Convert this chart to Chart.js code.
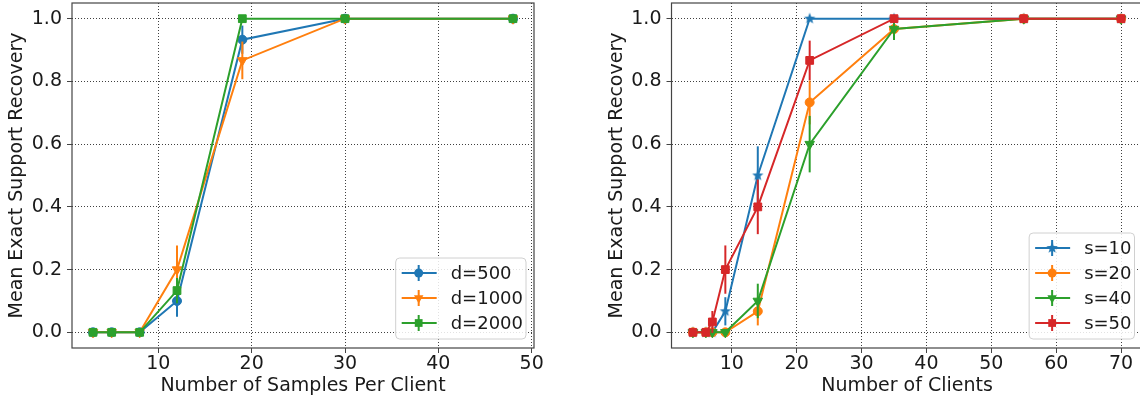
<!DOCTYPE html>
<html>
<head>
<meta charset="utf-8">
<script src="https://cdn.jsdelivr.net/npm/chart.js@4.4.1/dist/chart.umd.min.js"></script>
<style>
  html, body { margin: 0; padding: 0; background: #fff; overflow: hidden; width: 1140px; height: 397px; }
  #left { position: absolute; left: 0; top: 0; }
  #right { position: absolute; left: 580px; top: 0; }
</style>
</head>
<body>
<canvas id="left" width="545" height="397"></canvas>
<canvas id="right" width="565" height="397"></canvas>
<script>
// left panel: recovery vs samples per client
const samplesPerClient = [3, 5, 8, 12, 19, 30, 48];
const d500 = [0, 0, 0, 0.1, 0.933, 1, 1];
const d500Err = [0, 0, 0, 0.05, 0.045, 0, 0];
const d1000 = [0, 0, 0, 0.2, 0.867, 1, 1];
const d1000Err = [0, 0, 0, 0.077, 0.06, 0, 0];
const d2000 = [0, 0, 0, 0.133, 1, 1, 1];
const d2000Err = [0, 0, 0, 0.04, 0, 0, 0];
const leftLabels = ['d=500', 'd=1000', 'd=2000'];
const leftXTicks = [10, 20, 30, 40, 50];

// right panel: recovery vs number of clients
const numClients = [4, 6, 7, 9, 14, 22, 35, 55, 70];
const s10 = [0, 0, 0, 0.067, 0.5, 1, 1, 1, 1];
const s10Err = [0, 0, 0, 0.045, 0.093, 0, 0, 0, 0];
const s20 = [0, 0, 0, 0, 0.067, 0.733, 0.967, 1, 1];
const s20Err = [0, 0, 0, 0, 0.045, 0.07, 0.03, 0, 0];
const s40 = [0, 0, 0, 0, 0.1, 0.6, 0.967, 1, 1];
const s40Err = [0, 0, 0, 0, 0.055, 0.09, 0.035, 0, 0];
const s50 = [0, 0, 0.033, 0.2, 0.4, 0.867, 1, 1, 1];
const s50Err = [0, 0, 0.035, 0.077, 0.087, 0.063, 0, 0, 0];
const rightLabels = ['s=10', 's=20', 's=40', 's=50'];
const rightXTicks = [10, 20, 30, 40, 50, 60, 70];

const yTicks = [0, 0.2, 0.4, 0.6, 0.8, 1.0];

const BLUE = '#1f77b4', ORANGE = '#ff7f0e', GREEN = '#2ca02c', RED = '#d62728';
const FONT = { family: '"DejaVu Sans", sans-serif', size: 19 };
const LEGEND_FONT = '18px "DejaVu Sans", sans-serif';
const TEXT = '#1a1a1a';

// filled 5-point star, like matplotlib '*'
function starImage(color) {
  const c = document.createElement('canvas');
  c.width = 14; c.height = 14;
  const g = c.getContext('2d');
  g.fillStyle = color;
  g.beginPath();
  for (let i = 0; i < 10; i++) {
    const r = i % 2 === 0 ? 6 : 2.6;
    const a = -Math.PI / 2 + i * Math.PI / 5;
    g.lineTo(7 + r * Math.cos(a), 7 + r * Math.sin(a));
  }
  g.closePath();
  g.fill();
  return c;
}

function drawMarker(ctx, ds, x, y) {
  const style = ds.pointStyle, r = ds.pointRadius;
  ctx.fillStyle = ds.borderColor;
  ctx.beginPath();
  if (style instanceof HTMLCanvasElement) {
    ctx.drawImage(style, x - style.width / 2, y - style.height / 2);
    return;
  }
  if (style === 'circle') {
    ctx.arc(x, y, r, 0, Math.PI * 2);
  } else if (style === 'rect') {
    const s = r * Math.SQRT1_2;
    ctx.rect(x - s, y - s, 2 * s, 2 * s);
  } else if (style === 'triangle') {
    for (let k = 0; k < 3; k++) {
      const a = Math.PI / 2 + k * 2 * Math.PI / 3;
      ctx.lineTo(x + r * Math.cos(a), y + r * Math.sin(a));
    }
    ctx.closePath();
  }
  ctx.fill();
}

function makeSet(label, xs, ys, errs, color, style, radius, rotation, order) {
  return {
    label: label,
    data: xs.map((x, i) => ({ x: x, y: ys[i] })),
    errors: errs,
    borderColor: color,
    backgroundColor: color,
    pointBackgroundColor: color,
    pointBorderColor: color,
    pointStyle: style,
    pointRadius: radius,
    pointRotation: rotation || 0,
    pointBorderWidth: 1,
    borderWidth: 2,
    tension: 0,
    fill: false,
    order: order
  };
}

// vertical error bars drawn from the scales
const errorBars = {
  id: 'errorBars',
  beforeDatasetDraw(chart, args) {
    const ds = chart.data.datasets[args.index];
    if (!ds.errors) return;
    const ctx = chart.ctx, xs = chart.scales.x, ys = chart.scales.y;
    ctx.save();
    ctx.strokeStyle = ds.borderColor;
    ctx.lineWidth = 2;
    ds.data.forEach((p, i) => {
      const e = ds.errors[i];
      if (!e) return;
      const px = xs.getPixelForValue(p.x);
      ctx.beginPath();
      ctx.moveTo(px, ys.getPixelForValue(p.y - e));
      ctx.lineTo(px, ys.getPixelForValue(p.y + e));
      ctx.stroke();
    });
    ctx.restore();
  }
};

// axes frame on all four sides
const frame = {
  id: 'frame',
  beforeDatasetsDraw(chart) {
    const a = chart.chartArea, ctx = chart.ctx;
    ctx.save();
    ctx.strokeStyle = '#444';
    ctx.lineWidth = 1.2;
    ctx.strokeRect(a.left, a.top, a.right - a.left, a.bottom - a.top);
    ctx.restore();
  }
};

// matplotlib-style legend box, lower right
const boxLegend = {
  id: 'boxLegend',
  afterDraw(chart) {
    const ctx = chart.ctx, a = chart.chartArea;
    const sets = chart.data.datasets;
    const rowH = 25;
    ctx.save();
    ctx.font = LEGEND_FONT;
    const tw = Math.max(...sets.map(d => ctx.measureText(d.label).width));
    const w = 55 + tw + 3;
    const h = sets.length * rowH + 6;
    const right = a.right - 8, bottom = a.bottom - 9;
    const left = right - w, top = bottom - h;
    ctx.beginPath();
    ctx.roundRect(left, top, w, h, 4);
    ctx.fillStyle = 'rgba(255,255,255,0.85)';
    ctx.fill();
    ctx.strokeStyle = '#d0d0d0';
    ctx.lineWidth = 1;
    ctx.stroke();
    sets.forEach((ds, i) => {
      const cy = top + 15 + i * rowH;
      const mx = left + 23;
      ctx.strokeStyle = ds.borderColor;
      ctx.lineWidth = 2;
      ctx.beginPath();
      ctx.moveTo(left + 6, cy); ctx.lineTo(left + 41, cy);
      ctx.moveTo(mx, cy - 8); ctx.lineTo(mx, cy + 8);
      ctx.stroke();
      drawMarker(ctx, ds, mx, cy);
      ctx.fillStyle = TEXT;
      ctx.textBaseline = 'middle';
      ctx.textAlign = 'left';
      ctx.fillText(ds.label, left + 55, cy + 1);
    });
    ctx.restore();
  }
};

function makeScales(xMin, xMax, xTicks, xTitle, yWidth, yTitlePad) {
  return {
    x: {
      type: 'linear', min: xMin, max: xMax,
      afterBuildTicks: s => { s.ticks = xTicks.map(v => ({ value: v })); },
      afterFit: s => { s.height = 49; s.paddingLeft = 0; s.paddingRight = 0; },
      ticks: { font: FONT, color: TEXT, padding: 0, maxRotation: 0, autoSkip: false, callback: v => String(v) },
      grid: { color: 'rgba(0,0,0,0.75)', lineWidth: 1, tickLength: 5, tickColor: '#444', tickWidth: 1, tickBorderDash: [] },
      border: { display: false, dash: [1, 2] },
      title: { display: true, text: xTitle, font: FONT, color: TEXT, padding: { top: 0, bottom: 0 } }
    },
    y: {
      type: 'linear', min: -0.05, max: 1.05,
      afterBuildTicks: s => { s.ticks = yTicks.map(v => ({ value: v })); },
      afterFit: s => { s.width = yWidth; s.paddingTop = 0; s.paddingBottom = 0; },
      ticks: { font: FONT, color: TEXT, padding: 5, autoSkip: false, callback: v => v.toFixed(1) },
      grid: { color: 'rgba(0,0,0,0.75)', lineWidth: 1, tickLength: 5, tickColor: '#444', tickWidth: 1, tickBorderDash: [] },
      border: { display: false, dash: [1, 2] },
      title: { display: true, text: 'Mean Exact Support Recovery', font: FONT, color: TEXT, padding: { top: yTitlePad, bottom: 0 } }
    }
  };
}

function baseOptions(scales, padRight) {
  return {
    responsive: false,
    animation: false,
    layout: { autoPadding: false, padding: { top: 3, right: padRight, left: 0, bottom: 0 } },
    plugins: { legend: { display: false }, tooltip: { enabled: false } },
    scales: scales
  };
}

new Chart(document.getElementById('left'), {
  type: 'line',
  data: {
    datasets: [
      makeSet(leftLabels[0], samplesPerClient, d500, d500Err, BLUE, 'circle', 4.5, 0, 3),
      makeSet(leftLabels[1], samplesPerClient, d1000, d1000Err, ORANGE, 'triangle', 5.5, 180, 2),
      makeSet(leftLabels[2], samplesPerClient, d2000, d2000Err, GREEN, 'rect', 5.5, 0, 1)
    ]
  },
  options: baseOptions(makeScales(0.75, 50.25, leftXTicks, 'Number of Samples Per Client', 72, 6), 11),
  plugins: [frame, errorBars, boxLegend]
});

new Chart(document.getElementById('right'), {
  type: 'line',
  data: {
    datasets: [
      makeSet(rightLabels[0], numClients, s10, s10Err, BLUE, starImage(BLUE), 4, 0, 4),
      makeSet(rightLabels[1], numClients, s20, s20Err, ORANGE, 'circle', 4.5, 0, 3),
      makeSet(rightLabels[2], numClients, s40, s40Err, GREEN, 'triangle', 5.5, 180, 2),
      makeSet(rightLabels[3], numClients, s50, s50Err, RED, 'rect', 5.5, 0, 1)
    ]
  },
  options: baseOptions(makeScales(0.7, 73.3, rightXTicks, 'Number of Clients', 91.5, 26), 2.5),
  plugins: [frame, errorBars, boxLegend]
});
</script>
</body>
</html>
